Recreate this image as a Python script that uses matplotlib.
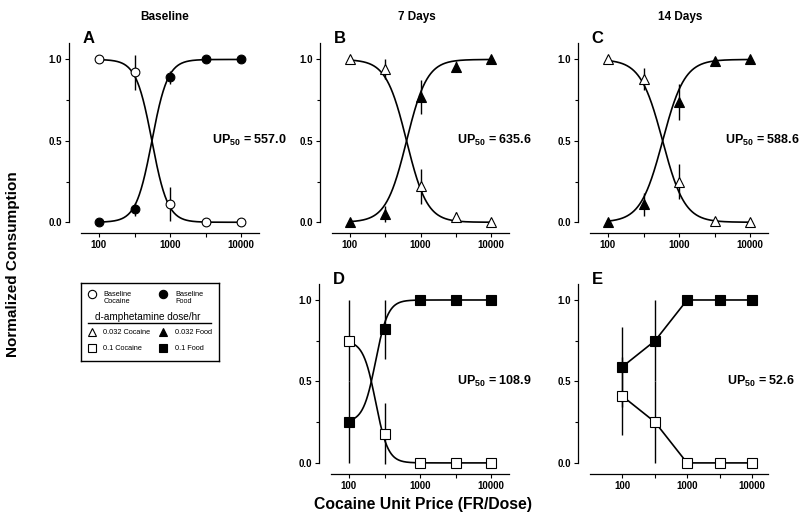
import numpy as np
import matplotlib.pyplot as plt
from matplotlib.ticker import FixedLocator, NullLocator
from matplotlib.lines import Line2D
from matplotlib.transforms import blended_transform_factory

plt.rcParams['font.family'] = ['Liberation Sans', 'DejaVu Sans']
plt.rcParams['mathtext.fontset'] = 'custom'
plt.rcParams['mathtext.rm'] = 'Liberation Sans:bold'
plt.rcParams['mathtext.it'] = 'Liberation Sans:bold'
plt.rcParams['mathtext.bf'] = 'Liberation Sans:bold'

# unit prices (FR/dose)
price = [100, 320, 1000, 3200, 10000]
tick_labels = ['100', '', '1000', '', '10000']

# A - baseline
base_coc = [1.0, 0.92, 0.11, 0.0, 0.0]
base_coc_err = [0, 0.11, 0.105, 0, 0]
base_food = [0.0, 0.08, 0.89, 1.0, 1.0]
base_food_err = [0, 0.04, 0.04, 0, 0]

# B - 7 days, 0.032 d-amphetamine
d7_coc = [1.0, 0.94, 0.22, 0.035, 0.0]
d7_coc_err = [0, 0.06, 0.11, 0.03, 0]
d7_food = [0.0, 0.05, 0.77, 0.955, 1.0]
d7_food_err = [0, 0.05, 0.105, 0.035, 0]

# C - 14 days, 0.032 d-amphetamine
d14_coc = [1.0, 0.88, 0.25, 0.01, 0.0]
d14_coc_err = [0, 0.07, 0.11, 0, 0]
d14_food = [0.0, 0.11, 0.74, 0.99, 1.0]
d14_food_err = [0, 0.07, 0.11, 0, 0]

# D - 7 days, 0.1 d-amphetamine
d7h_coc = [0.75, 0.18, 0.0, 0.0, 0.0]
d7h_coc_err = [0.25, 0.185, 0, 0, 0]
d7h_food = [0.25, 0.82, 1.0, 1.0, 1.0]
d7h_food_err = [0.25, 0.18, 0, 0, 0]

# E - 14 days, 0.1 d-amphetamine
d14h_coc = [0.41, 0.25, 0.0, 0.0, 0.0]
d14h_coc_err = [0.24, 0.25, 0, 0, 0]
d14h_food = [0.59, 0.75, 1.0, 1.0, 1.0]
d14h_food_err = [0.245, 0.25, 0, 0, 0]

up50 = ['557.0', '635.6', '588.6', '108.9', '52.6']

# fitted curve parameters: top, bottom, midpoint, hill
fit_a = (1.0, 0.0, 557.0, 3.9)
fit_b = (1.0, 0.0, 635.6, 3.0)
fit_c = (1.0, 0.0, 588.6, 2.8)
fit_d = (0.75, 0.0, 238.0, 5.0)


def fit_curve(x, top, bottom, mid, hill):
    return bottom + (top - bottom) / (1 + (x / mid) ** hill)


fig = plt.figure(figsize=(8, 5.28), dpi=100)

top_b, top_h = 0.5581, 0.3601
bot_b, bot_h = 0.1023, 0.3604
panels = [
    ('A', [81 / 800, top_b, 178 / 800, top_h], 1.75, 'o', base_coc, base_coc_err, base_food, base_food_err, fit_a, 0.736),
    ('B', [332 / 800, top_b, 177 / 800, top_h], 1.75, '^', d7_coc, d7_coc_err, d7_food, d7_food_err, fit_b, 0.706),
    ('C', [590 / 800, top_b, 178 / 800, top_h], 1.75, '^', d14_coc, d14_coc_err, d14_food, d14_food_err, fit_c, 0.758),
    ('D', [331 / 800, bot_b, 178 / 800, bot_h], 1.75, 's', d7h_coc, d7h_coc_err, d7h_food, d7h_food_err, fit_d, 0.708),
    ('E', [590 / 800, bot_b, 178 / 800, bot_h], 1.5, 's', d14h_coc, d14h_coc_err, d14h_food, d14h_food_err, None, 0.77),
]

xs = np.logspace(2, 4, 300)

for i, (letter, pos, xlo, mk, coc, coc_err, food, food_err, fit, upx) in enumerate(panels):
    ax = fig.add_axes(pos)
    ax.set_xscale('log')
    ax.set_xlim(10 ** xlo, 10 ** 4.25)
    ax.set_ylim(-0.068, 1.1)

    if fit is not None:
        top, bottom, mid, hill = fit
        ax.plot(xs, fit_curve(xs, top, bottom, mid, hill), color='k', lw=1.2, zorder=2)
        ax.plot(xs, fit_curve(xs, 1 - top, 1 - bottom, mid, hill), color='k', lw=1.2, zorder=2)
        ls = 'none'
    else:
        ls = '-'

    ms = 6.5 if mk != 'o' else 6.3
    ax.errorbar(price, coc, yerr=coc_err, fmt='none', ecolor='k', elinewidth=1.0, capsize=0, zorder=3, clip_on=False)
    ax.errorbar(price, food, yerr=food_err, fmt='none', ecolor='k', elinewidth=1.0, capsize=0, zorder=3, clip_on=False)
    ax.plot(price, coc, marker=mk, ls=ls, color='k', lw=1.2, ms=ms, mfc='white', mec='k', mew=0.8,
            zorder=4, clip_on=False)
    ax.plot(price, food, marker=mk, ls=ls, color='k', lw=1.2, ms=ms, mfc='k', mec='k', mew=0.8,
            zorder=4, clip_on=False)

    for s in ['top', 'right']:
        ax.spines[s].set_visible(False)
    ax.spines['left'].set_position(('outward', 8.6))
    ax.spines['left'].set_bounds(0, 1.1)
    for s in ['left', 'bottom']:
        ax.spines[s].set_linewidth(0.9)

    ax.xaxis.set_major_locator(FixedLocator(price))
    ax.xaxis.set_minor_locator(NullLocator())
    ax.set_xticklabels(tick_labels)
    ax.set_yticks([0, 0.5, 1.0])
    ax.set_yticklabels(['0.0', '0.5', '1.0'])
    ax.yaxis.set_minor_locator(FixedLocator([0.25, 0.75]))
    ax.tick_params(axis='both', which='major', direction='out', length=3, width=0.8,
                   labelsize=7, pad=2)
    ax.tick_params(axis='y', which='minor', direction='out', length=2, width=0.8)
    for lab in ax.get_xticklabels() + ax.get_yticklabels():
        lab.set_fontweight('bold')

    ax.text(0.01, 1.0, letter, transform=ax.transAxes, fontsize=12, fontweight='bold',
            va='baseline', ha='left')
    ax.text(upx, 0.5, r'UP$_{\mathrm{50}}$ = ' + up50[i],
            transform=blended_transform_factory(ax.transAxes, ax.transData),
            fontsize=9, fontweight='bold', va='center', ha='left')

# column titles
fig.text(165 / 800, 1 - 17 / 528, 'Baseline', ha='center', va='center', fontsize=8.5, fontweight='bold')
fig.text(417 / 800, 1 - 17 / 528, '7 Days', ha='center', va='center', fontsize=8.5, fontweight='bold')
fig.text(680 / 800, 1 - 17 / 528, '14 Days', ha='center', va='center', fontsize=8.5, fontweight='bold')

fig.text(13 / 800, 1 - 264 / 528, 'Normalized Consumption', rotation=90, ha='center', va='center',
         fontsize=11, fontweight='bold')
fig.text(423 / 800, 1 - 504 / 528, 'Cocaine Unit Price (FR/Dose)', ha='center', va='center',
         fontsize=11.3, fontweight='bold')

# legend box
lg = fig.add_axes([80.7 / 800, 1 - 361.3 / 528, 138.6 / 800, 78.6 / 528])
lg.set_xlim(0, 1)
lg.set_ylim(0, 1)
lg.set_xticks([])
lg.set_yticks([])
for s in lg.spines.values():
    s.set_linewidth(1.0)

legend_rows = [
    ('o', 0.856, 'Baseline\nCocaine', 'Baseline\nFood', 0.805),
    ('^', 0.369, '0.032 Cocaine', '0.032 Food', 0.369),
    ('s', 0.165, '0.1 Cocaine', '0.1 Food', 0.165),
]
for mk, my, lab_open, lab_fill, ty in legend_rows:
    lg.plot([0.083], [my], marker=mk, ms=6, mfc='white', mec='k', mew=0.8, ls='none')
    lg.plot([0.594], [my], marker=mk, ms=6, mfc='k', mec='k', mew=0.8, ls='none')
    lg.text(0.163, ty, lab_open, fontsize=5.3, va='center', ha='left', linespacing=1.0)
    lg.text(0.68, ty, lab_fill, fontsize=5.3, va='center', ha='left', linespacing=1.0)
lg.text(0.483, 0.567, 'd-amphetamine dose/hr', fontsize=7.2, ha='center', va='center')
lg.add_line(Line2D([0.053, 0.938], [0.491, 0.491], color='k', lw=1.0))

fig.savefig('out.png', dpi=100)
